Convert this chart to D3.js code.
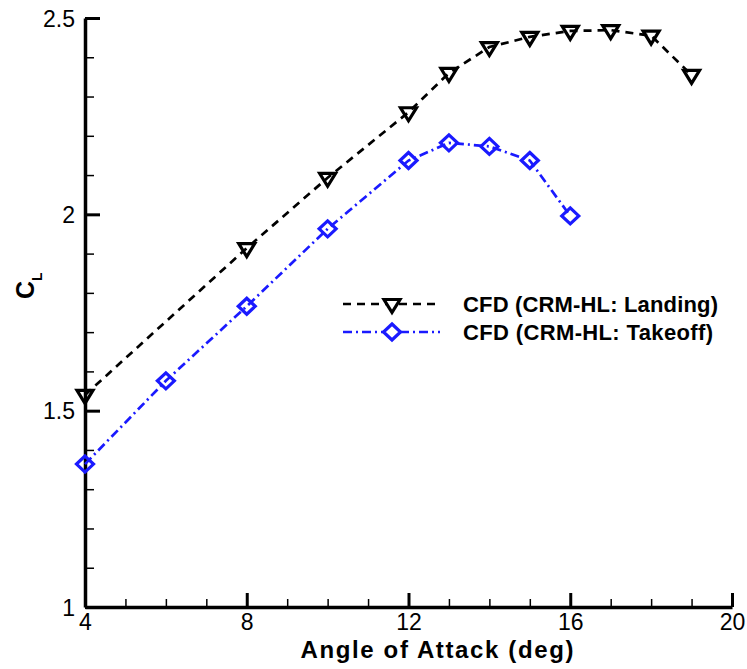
<!DOCTYPE html>
<html>
<head>
<meta charset="utf-8">
<script src="https://cdn.jsdelivr.net/npm/d3@7"></script>
<style>
  body { margin: 0; background: #fff; }
  text { font-family: "Liberation Sans", Arial, Helvetica, sans-serif; }
</style>
</head>
<body>
<div id="chart"></div>
<script>
// angle of attack (deg) and lift coefficient
var aoaLanding = [4, 8, 10, 12, 13, 14, 15, 16, 17, 18, 19];
var clLanding = [1.540, 1.914, 2.093, 2.260, 2.360, 2.426, 2.452, 2.467, 2.469, 2.455, 2.355];
var aoaTakeoff = [4, 6, 8, 10, 12, 13, 14, 15, 16];
var clTakeoff = [1.364, 1.576, 1.766, 1.963, 2.137, 2.182, 2.173, 2.137, 1.996];
var xMajor = [4, 8, 12, 16, 20];
var yMajor = [1, 1.5, 2, 2.5];
var legendLabels = ["CFD (CRM-HL: Landing)", "CFD (CRM-HL: Takeoff)"];

var width = 747, height = 669;
var blue = "#1a1aff";

var svg = d3.select('#chart')
  .append('svg')
  .attr('width', width)
  .attr('height', height);

var x = d3.scaleLinear().domain([4, 20]).range([85, 732]);
var y = d3.scaleLinear().domain([1, 2.5]).range([607, 18]);

var xMinor = d3.range(4, 20.01, 1).filter(function(v) { return v % 4 !== 0; });
var yMinor = d3.range(10, 25.01, 1).map(function(v) { return v / 10; })
  .filter(function(v) { return Math.abs(v * 2 - Math.round(v * 2)) > 1e-6; });

// minor ticks
svg.append('g')
  .attr('transform', 'translate(0,' + y(1) + ')')
  .call(d3.axisBottom(x).tickValues(xMinor).tickSize(-8).tickSizeOuter(0).tickFormat(''))
  .call(function(g) { g.select('.domain').remove(); g.selectAll('line').attr('stroke-width', 1.5); });
svg.append('g')
  .attr('transform', 'translate(' + x(4) + ',0)')
  .call(d3.axisLeft(y).tickValues(yMinor).tickSize(-9).tickSizeOuter(0).tickFormat(''))
  .call(function(g) { g.select('.domain').remove(); g.selectAll('line').attr('stroke-width', 1.5); });

// major ticks + labels
var xAxis = svg.append('g')
  .attr('transform', 'translate(0,' + y(1) + ')')
  .call(d3.axisBottom(x).tickValues(xMajor).tickSize(-14).tickSizeOuter(0).tickPadding(7).tickFormat(d3.format('d')));
var yAxis = svg.append('g')
  .attr('transform', 'translate(' + x(4) + ',0)')
  .call(d3.axisLeft(y).tickValues(yMajor).tickSize(-15).tickSizeOuter(0).tickPadding(10).tickFormat(function(d) { return d; }));

[xAxis, yAxis].forEach(function(g) {
  g.select('.domain').attr('stroke-width', 3.5).attr('stroke', '#000');
  g.selectAll('.tick line').attr('stroke-width', 3).attr('stroke', '#000');
  g.selectAll('.tick text').attr('font-size', 23).attr('fill', '#000')
    .style('font-family', '"Liberation Sans", Arial, sans-serif');
});
yAxis.selectAll('.tick text').attr('dy', '0.36em');

// axis titles
svg.append('text')
  .attr('x', 437).attr('y', 658)
  .attr('text-anchor', 'middle')
  .attr('font-size', 24).attr('font-weight', 'bold')
  .attr('textLength', 273)
  .text('Angle of Attack (deg)');

var yt = svg.append('text')
  .attr('transform', 'translate(34,299) rotate(-90)')
  .attr('font-size', 25).attr('font-weight', 'bold');
yt.append('tspan').text('C');
yt.append('tspan').attr('dy', 8).attr('font-size', 14).text('L');

// series
var series = [
  {xs: aoaLanding, ys: clLanding, color: '#000', dash: '8,6', marker: 'tri'},
  {xs: aoaTakeoff, ys: clTakeoff, color: blue, dash: '9,4,2,4', marker: 'dia'}
];

var line = d3.line()
  .x(function(d) { return x(d[0]); })
  .y(function(d) { return y(d[1]); });

function markerPath(type) {
  if (type === 'tri') return 'M-8,-4.5 L8,-4.5 L0,8.5 Z';
  return 'M0,-8 L8.5,0 L0,8 L-8.5,0 Z';
}

series.forEach(function(s) {
  var pts = s.xs.map(function(v, i) { return [v, s.ys[i]]; });
  svg.append('path')
    .datum(pts)
    .attr('d', line)
    .attr('fill', 'none')
    .attr('stroke', s.color)
    .attr('stroke-width', 2.7)
    .attr('stroke-dasharray', s.dash);
  svg.selectAll(null)
    .data(pts)
    .enter()
    .append('path')
    .attr('d', markerPath(s.marker))
    .attr('transform', function(d) { return 'translate(' + x(d[0]) + ',' + y(d[1]) + ')'; })
    .attr('fill', 'none')
    .attr('stroke', s.color)
    .attr('stroke-width', 3.2);
});

// legend
var legend = svg.selectAll('.legend')
  .data(series)
  .enter()
  .append('g')
  .attr('class', 'legend')
  .attr('transform', function(d, i) { return 'translate(0,' + (304 + i * 28) + ')'; });

legend.append('line')
  .attr('x1', 343).attr('x2', 440)
  .attr('stroke', function(d) { return d.color; })
  .attr('stroke-width', 2.7)
  .attr('stroke-dasharray', function(d) { return d.dash; });
legend.append('path')
  .attr('d', function(d) { return markerPath(d.marker); })
  .attr('transform', 'translate(392,0)')
  .attr('fill', '#fff')
  .attr('stroke', function(d) { return d.color; })
  .attr('stroke-width', 3.2);
legend.append('text')
  .attr('x', 463).attr('y', 8)
  .attr('font-size', 22).attr('font-weight', 'bold')
  .attr('textLength', function(d, i) { return i === 0 ? 255 : 250; })
  .text(function(d, i) { return legendLabels[i]; });
</script>
</body>
</html>
